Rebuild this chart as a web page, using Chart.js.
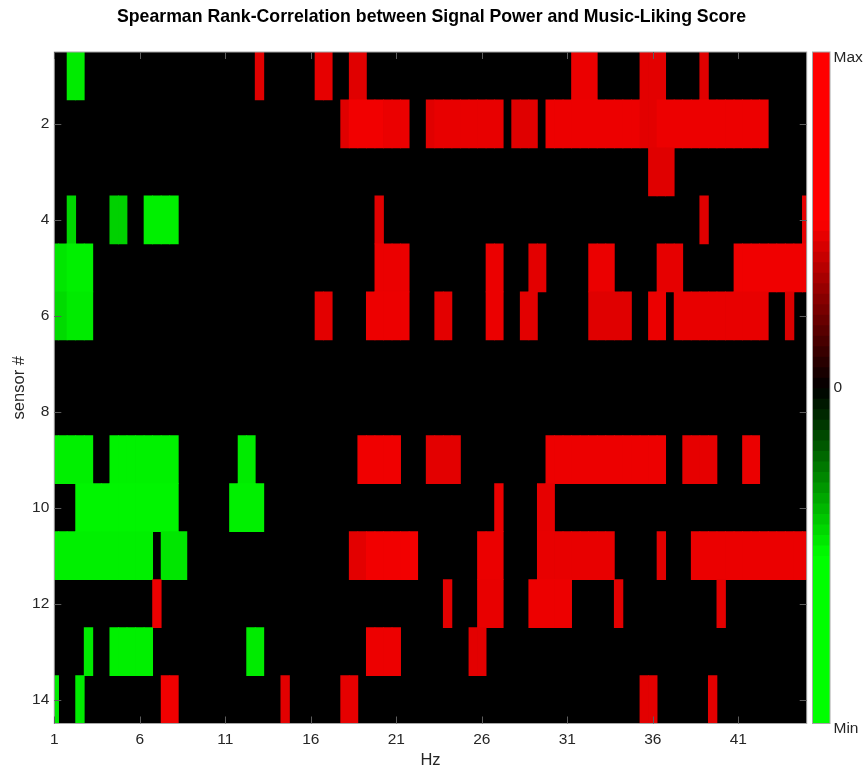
<!DOCTYPE html>
<html>
<head>
<meta charset="utf-8">
<script src="https://cdn.jsdelivr.net/npm/chart.js@4.4.1/dist/chart.umd.min.js"></script>
<style>
  html, body { margin: 0; padding: 0; background: #fff; }
  #wrap { position: relative; width: 863px; height: 769px; }
  #wrap canvas { position: absolute; top: 0; }
</style>
</head>
<body>
<div id="wrap">
  <canvas id="heat" width="863" height="769" style="left:0;width:863px;height:769px"></canvas>
  <canvas id="cbar" width="63" height="769" style="left:800px;width:63px;height:769px"></canvas>
</div>
<script>
// Frequency bins (Hz), 0.5 Hz resolution
const hzBins = [1, 1.5, 2, 2.5, 3, 3.5, 4, 4.5, 5, 5.5, 6, 6.5, 7, 7.5, 8, 8.5, 9, 9.5, 10, 10.5,
  11, 11.5, 12, 12.5, 13, 13.5, 14, 14.5, 15, 15.5, 16, 16.5, 17, 17.5, 18, 18.5, 19, 19.5, 20, 20.5,
  21, 21.5, 22, 22.5, 23, 23.5, 24, 24.5, 25, 25.5, 26, 26.5, 27, 27.5, 28, 28.5, 29, 29.5, 30, 30.5,
  31, 31.5, 32, 32.5, 33, 33.5, 34, 34.5, 35, 35.5, 36, 36.5, 37, 37.5, 38, 38.5, 39, 39.5, 40, 40.5,
  41, 41.5, 42, 42.5, 43, 43.5, 44, 44.5, 45];

const sensors = [1, 2, 3, 4, 5, 6, 7, 8, 9, 10, 11, 12, 13, 14];
const xTicks = [1, 6, 11, 16, 21, 26, 31, 36, 41];
const yTicks = [2, 4, 6, 8, 10, 12, 14];
const cbarTicks = [-1, 0, 1];
const cbarTickLabels = ['Min', '0', 'Max'];

// Significant correlations per sensor: [fromHz, toHz, rho]; every other bin is 0
const sensor01 = [[2.0, 2.5, -0.46], [13.0, 13.0, 0.44], [16.5, 17.0, 0.45], [18.5, 19.0, 0.44],
  [31.5, 32.5, 0.46], [35.5, 36.5, 0.445], [39.0, 39.0, 0.44]];
const sensor02 = [[18.0, 18.0, 0.44], [18.5, 20.0, 0.475], [20.5, 21.5, 0.46], [23.0, 23.0, 0.44],
  [23.5, 27.0, 0.455], [28.0, 29.0, 0.44], [30.0, 35.0, 0.465], [35.5, 36.0, 0.445], [36.5, 42.5, 0.465]];
const sensor03 = [[36.0, 37.0, 0.44]];
const sensor04 = [[2.0, 2.0, -0.42], [4.5, 5.0, -0.41], [6.5, 8.0, -0.47], [20.0, 20.0, 0.44],
  [39.0, 39.0, 0.44], [45.0, 45.0, 0.45]];
const sensor05 = [[1.0, 1.5, -0.45], [2.0, 3.0, -0.47], [20.0, 21.5, 0.46], [26.5, 27.0, 0.46],
  [29.0, 29.5, 0.445], [32.5, 33.5, 0.46], [36.5, 37.5, 0.45], [41.0, 45.0, 0.47]];
const sensor06 = [[1.0, 1.5, -0.43], [2.0, 3.0, -0.46], [16.5, 17.0, 0.445], [19.5, 21.5, 0.465],
  [23.5, 24.0, 0.445], [26.5, 27.0, 0.46], [28.5, 29.0, 0.445], [32.5, 34.5, 0.44], [36.0, 36.5, 0.46],
  [37.5, 42.5, 0.455], [44.0, 44.0, 0.43]];
const sensor07 = [];
const sensor08 = [];
const sensor09 = [[1.0, 3.0, -0.47], [4.5, 8.0, -0.475], [12.0, 12.5, -0.46], [19.0, 21.0, 0.47],
  [23.0, 24.5, 0.445], [30.0, 36.5, 0.465], [38.0, 39.5, 0.45], [41.5, 42.0, 0.46]];
const sensor10 = [[2.5, 8.0, -0.48], [11.5, 13.0, -0.47], [27.0, 27.0, 0.46], [29.5, 30.0, 0.45]];
const sensor11 = [[1.0, 6.5, -0.47], [7.5, 8.5, -0.45], [18.5, 19.0, 0.445], [19.5, 22.0, 0.475],
  [26.0, 27.0, 0.46], [29.5, 33.5, 0.455], [36.5, 36.5, 0.445], [38.5, 45.0, 0.46]];
const sensor12 = [[7.0, 7.0, 0.46], [24.0, 24.0, 0.445], [26.0, 27.0, 0.455], [29.0, 31.0, 0.465],
  [34.0, 34.0, 0.445], [40.0, 40.0, 0.445]];
const sensor13 = [[3.0, 3.0, -0.46], [4.5, 6.5, -0.47], [12.5, 13.0, -0.46], [19.5, 21.0, 0.465],
  [25.5, 26.0, 0.445]];
const sensor14 = [[1.0, 1.0, -0.46], [2.5, 2.5, -0.46], [7.5, 8.0, 0.47], [14.5, 14.5, 0.445],
  [18.0, 18.5, 0.45], [35.5, 36.0, 0.445], [39.5, 39.5, 0.445]];

const sensorRuns = [sensor01, sensor02, sensor03, sensor04, sensor05, sensor06, sensor07,
  sensor08, sensor09, sensor10, sensor11, sensor12, sensor13, sensor14];

const BIN_WIDTH = 0.5;
const RAMP = 0.5;     // |rho| at which the colour map saturates
const LEVELS = 64;    // colour bar steps
const FONT = '"Liberation Sans", Arial, Helvetica, sans-serif';
const TEXT = '#262626';
const TICK_FONT = { family: FONT, size: 15.5 };

// green - black - red colour map
function colourFor(v) {
  const t = Math.min(1, Math.abs(v) / RAMP);
  const c = Math.round(255 * t);
  return v >= 0 ? 'rgb(' + c + ',0,0)' : 'rgb(0,' + c + ',0)';
}

// one floating bar per (sensor, frequency) cell
const cells = [];
sensors.forEach((s, r) => {
  hzBins.forEach(hz => {
    const run = sensorRuns[r].find(([a, b]) => hz >= a && hz <= b);
    cells.push({ x: [hz - BIN_WIDTH / 2, hz + BIN_WIDTH / 2], y: s, v: run ? run[2] : 0 });
  });
});
// zero cells underneath, significant cells on top
cells.sort((a, b) => (a.v !== 0) - (b.v !== 0));

function strokeArea(chart) {
  const { ctx, chartArea: a } = chart;
  ctx.save();
  ctx.strokeStyle = '#a8a8a8';
  ctx.lineWidth = 1;
  ctx.strokeRect(a.left, a.top, a.width, a.height);
  ctx.restore();
}

const frame = {
  id: 'frame',
  beforeDatasetsDraw(chart) {
    const { ctx, chartArea: a } = chart;
    ctx.save();
    ctx.fillStyle = '#000';
    ctx.fillRect(a.left, a.top, a.width, a.height);
    ctx.restore();
  },
  afterDatasetsDraw: strokeArea
};

// short tick marks pointing into the plot on all four sides
const innerTicks = {
  id: 'innerTicks',
  afterDatasetsDraw(chart) {
    const { ctx, chartArea: a, scales } = chart;
    const len = 7;
    ctx.save();
    ctx.strokeStyle = '#5c5c5c';
    ctx.lineWidth = 1;
    ctx.beginPath();
    xTicks.forEach(v => {
      const px = Math.round(scales.x.getPixelForValue(v)) + 0.5;
      ctx.moveTo(px, a.bottom); ctx.lineTo(px, a.bottom - len);
      ctx.moveTo(px, a.top); ctx.lineTo(px, a.top + len);
    });
    yTicks.forEach(v => {
      const py = Math.round(scales.y.getPixelForValue(v)) + 0.5;
      ctx.moveTo(a.left, py); ctx.lineTo(a.left + len, py);
      ctx.moveTo(a.right, py); ctx.lineTo(a.right - len, py);
    });
    ctx.stroke();
    ctx.restore();
  }
};

new Chart(document.getElementById('heat'), {
  type: 'bar',
  data: {
    datasets: [{
      data: cells,
      backgroundColor: c => colourFor(c.raw ? c.raw.v : 0),
      borderWidth: 0,
      inflateAmount: 0.4,
      barPercentage: 1,
      categoryPercentage: 1,
      clip: 0
    }]
  },
  options: {
    indexAxis: 'y',
    responsive: false,
    animation: false,
    events: [],
    layout: { padding: { left: 0, right: 0, top: 0, bottom: 0 } },
    plugins: {
      legend: { display: false },
      tooltip: { enabled: false },
      title: {
        display: true,
        text: 'Spearman Rank-Correlation between Signal Power and Music-Liking Score',
        color: '#000',
        font: { family: FONT, size: 17.7, weight: 'bold', lineHeight: 1.2 },
        padding: { top: 6.5, bottom: 24.25 }
      }
    },
    scales: {
      x: {
        type: 'linear',
        min: 1,
        max: 45,
        offset: false,
        beginAtZero: false,
        grid: { display: false, drawTicks: false },
        border: { display: false },
        ticks: { autoSkip: false, maxRotation: 0, padding: 7, color: TEXT, font: TICK_FONT },
        title: { display: true, text: 'Hz', color: TEXT, font: { family: FONT, size: 16.5, lineHeight: 1 }, padding: { top: 0, bottom: 0 } },
        afterBuildTicks: s => { s.ticks = xTicks.map(v => ({ value: v })); },
        afterFit: s => { s.height = 45.5; }
      },
      y: {
        type: 'linear',
        min: 0.5,
        max: 14.5,
        reverse: true,
        offset: false,
        grid: { display: false, drawTicks: false },
        border: { display: false },
        ticks: { autoSkip: false, padding: 5, color: TEXT, font: TICK_FONT },
        title: { display: true, text: 'sensor #', color: TEXT, font: { family: FONT, size: 16.5 }, padding: { top: 10, bottom: 0 } },
        afterBuildTicks: s => { s.ticks = yTicks.map(v => ({ value: v })); },
        afterFit: s => { s.width = 54.3; }
      },
      yRight: {
        type: 'linear',
        position: 'right',
        min: 0.5,
        max: 14.5,
        reverse: true,
        grid: { display: false, drawTicks: false },
        border: { display: false },
        ticks: { display: false },
        afterFit: s => { s.width = 56.3; }
      }
    }
  },
  plugins: [frame, innerTicks]
});

// colour bar: stacked steps of the colour map from Min to Max
const cbarSteps = [];
for (let i = 0; i < LEVELS; i++) {
  const lo = -1 + 2 * i / LEVELS;
  const hi = -1 + 2 * (i + 1) / LEVELS;
  cbarSteps.push({ x: 'rho', y: [lo, hi], v: (lo + hi) / 2 });
}

const isEnd = c => c.tick && c.tick.value !== 0;

new Chart(document.getElementById('cbar'), {
  type: 'bar',
  data: {
    labels: ['rho'],
    datasets: [{
      data: cbarSteps,
      backgroundColor: c => colourFor(c.raw ? c.raw.v : 0),
      borderWidth: 0,
      inflateAmount: 0.4,
      barPercentage: 1,
      categoryPercentage: 1,
      clip: 0
    }]
  },
  options: {
    responsive: false,
    animation: false,
    events: [],
    layout: { padding: { left: 12.5, right: 0, top: 52, bottom: 45.5 } },
    plugins: { legend: { display: false }, tooltip: { enabled: false }, title: { display: false } },
    scales: {
      x: { display: false },
      y: {
        type: 'linear',
        position: 'right',
        min: -1,
        max: 1,
        grid: { display: false, drawTicks: false },
        border: { display: false },
        ticks: {
          padding: 3.5,
          color: TEXT,
          // the end labels hang a little below their ticks (blank first line)
          font: c => isEnd(c) ? { family: FONT, size: 15.5, lineHeight: '11px' } : TICK_FONT,
          callback: (v, i) => v === 0 ? cbarTickLabels[i] : ['', cbarTickLabels[i]]
        },
        afterBuildTicks: s => { s.ticks = cbarTicks.map(v => ({ value: v })); },
        afterFit: s => { s.width = 33; }
      }
    }
  },
  plugins: [{ id: 'cbarFrame', afterDatasetsDraw: strokeArea }]
});
</script>
</body>
</html>
